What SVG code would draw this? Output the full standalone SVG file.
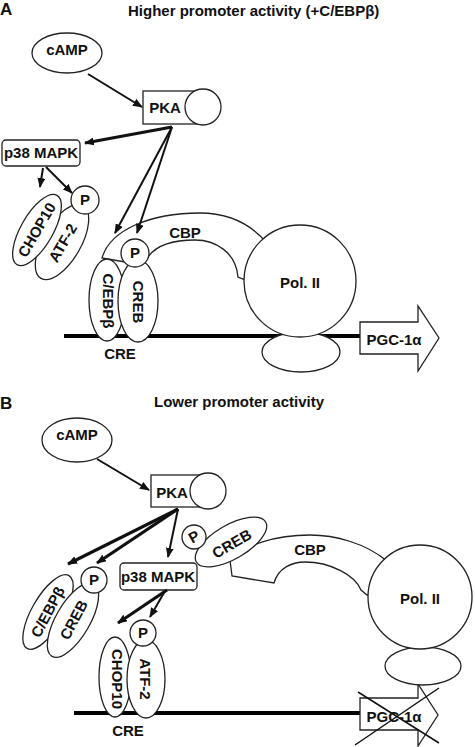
<svg xmlns="http://www.w3.org/2000/svg" width="475" height="747" viewBox="0 0 475 747">
<style>
text{font-family:"Liberation Sans",Arial,sans-serif;font-weight:bold;font-size:15px;fill:#111}
.c{text-anchor:middle}
.s{fill:#fff;stroke:#222;stroke-width:1.3}
.a{stroke:#111;stroke-width:2;fill:none;marker-end:url(#ah)}
.t{stroke:#111;stroke-width:3.2;fill:none;marker-end:url(#ah)}
.dna{stroke:#000;stroke-width:4}
.big{font-size:17px}
</style>
<defs>
<marker id="ah" markerUnits="userSpaceOnUse" markerWidth="10" markerHeight="8" refX="9" refY="4" orient="auto">
<path d="M0,0 L10,4 L0,8 Z" fill="#111"/>
</marker>
</defs>
<rect width="475" height="747" fill="#fff"/>

<!-- Panel A -->
<text x="0" y="15" class="big">A</text>
<text x="128" y="16">Higher promoter activity (+C/EBPβ)</text>

<g id="a-dna"><line class="dna" x1="64" y1="336" x2="360" y2="336"/></g>

<g id="a-camp"><ellipse class="s" cx="67" cy="53" rx="35" ry="20"/><text class="c" x="67" y="55">cAMP</text></g>
<g id="a-pka"><rect class="s" x="143" y="91" width="58" height="33"/><circle class="s" cx="203" cy="107" r="18"/><text class="c" x="165" y="113">PKA</text></g>
<g id="a-p38"><rect class="s" x="2" y="140" width="78" height="26" rx="4"/><text class="c" x="41" y="158">p38 MAPK</text></g>

<g id="a-atf2"><ellipse class="s" cx="62" cy="242" rx="42" ry="19" transform="rotate(-60 62 242)"/><text class="c" transform="translate(63,243) rotate(-60)" y="5">ATF-2</text></g>
<g id="a-chop10"><ellipse class="s" cx="37" cy="230" rx="40" ry="16" transform="rotate(-60 37 230)"/><text class="c" transform="translate(37,230) rotate(-60)" y="5">CHOP10</text></g>
<g id="a-p1"><circle class="s" cx="85" cy="200" r="14"/><text class="c" x="85" y="205">P</text></g>

<g id="a-cbp"><path class="s" d="M102,258 C110,230 150,213 200,213 C230,213 252,226 266,242 L262,282 L243,279 L238,277 C236,252 215,240 195,240 C170,240 155,247 148,257 L125,262 Z"/><text class="c" x="185" y="238">CBP</text></g>
<g id="a-cebpb"><ellipse class="s" cx="107" cy="300" rx="18" ry="41"/><text class="c" transform="translate(108,301) rotate(90)" y="5">C/EBPβ</text></g>
<g id="a-creb"><ellipse class="s" cx="138" cy="301" rx="20" ry="41"/><text class="c" transform="translate(138,302) rotate(90)" y="5">CREB</text></g>
<g id="a-p2"><circle class="s" cx="135" cy="253" r="14"/><text class="c" x="135" y="258">P</text></g>
<text class="c" x="120" y="359">CRE</text>

<g id="a-pol2base"><ellipse class="s" cx="301" cy="352" rx="39" ry="20"/></g>
<g id="a-pol2"><circle class="s" cx="300" cy="281" r="56"/><text class="c" x="300" y="288">Pol. II</text></g>
<g id="a-pgc"><path class="s" d="M360,322 H418 V306 L439,338 L418,371 V354 H360 Z"/><text class="c" x="394" y="345">PGC-1α</text></g>

<g id="a-connectors">
<line class="a" x1="88" y1="74" x2="142" y2="107"/>
<line class="t" x1="172" y1="127" x2="85" y2="143"/>
<line class="a" x1="172" y1="127" x2="115" y2="233"/>
<line class="a" x1="172" y1="127" x2="137" y2="233"/>
<line class="a" x1="43" y1="168" x2="40" y2="187"/>
<line class="a" x1="46" y1="167" x2="72" y2="193"/>
</g>

<!-- Panel B -->
<text x="0" y="409" class="big">B</text>
<text x="154" y="407">Lower promoter activity</text>

<g id="b-dna"><line class="dna" x1="74" y1="713" x2="360" y2="713"/></g>

<g id="b-camp"><ellipse class="s" cx="77" cy="440" rx="35" ry="22"/><text class="c" x="77" y="440">cAMP</text></g>
<g id="b-pka"><rect class="s" x="151" y="475" width="57" height="32"/><circle class="s" cx="208" cy="491" r="18"/><text class="c" x="172" y="498">PKA</text></g>
<g id="b-p38"><rect class="s" x="120" y="563" width="77" height="27" rx="4"/><text class="c" x="158" y="582">p38 MAPK</text></g>

<g id="b-cbp"><path class="s" d="M230,560 C245,545 275,535 310,535 C335,535 365,543 387,561 L380,595 L367,595 L361,590 C355,575 330,562 305,562 C292,562 278,568 274,583 L232,576 Z"/><text class="c" x="310" y="555">CBP</text></g>
<g id="b-creb2"><ellipse class="s" cx="231" cy="542" rx="40" ry="17" transform="rotate(-30 231 542)"/><text class="c" transform="translate(232,544) rotate(-30)" y="5">CREB</text></g>
<g id="b-p2"><circle class="s" cx="194" cy="537" r="12"/><text class="c" transform="translate(194,537) rotate(-30)" y="5">P</text></g>

<g id="b-cebpb"><ellipse class="s" cx="48" cy="612" rx="42" ry="16" transform="rotate(-60 48 612)"/><text class="c" transform="translate(48,612) rotate(-62)" y="5">C/EBPβ</text></g>
<g id="b-creb"><ellipse class="s" cx="73" cy="620" rx="42" ry="17" transform="rotate(-60 73 620)"/><text class="c" transform="translate(74,620) rotate(-62)" y="5">CREB</text></g>
<g id="b-p1"><circle class="s" cx="94" cy="580" r="13"/><text class="c" x="94" y="585">P</text></g>

<g id="b-chop10"><ellipse class="s" cx="115" cy="677" rx="16" ry="40"/><text class="c" transform="translate(117,679) rotate(90)" y="5">CHOP10</text></g>
<g id="b-atf2"><ellipse class="s" cx="146" cy="679" rx="19" ry="39"/><text class="c" transform="translate(145,679) rotate(90)" y="5">ATF-2</text></g>
<g id="b-p3"><circle class="s" cx="143" cy="633" r="13"/><text class="c" x="143" y="638">P</text></g>
<text class="c" x="128" y="736">CRE</text>

<g id="b-pgc"><path class="s" d="M360,698 H418 V684 L438,715 L418,746 V730 H360 Z"/><text class="c" x="394" y="722">PGC-1α</text>
<line x1="358" y1="692" x2="439" y2="743" stroke="#111" stroke-width="1.5"/>
<line x1="439" y1="688" x2="355" y2="745" stroke="#111" stroke-width="1.5"/></g>
<g id="b-pol2base"><ellipse class="s" cx="423" cy="666" rx="38" ry="19"/></g>
<g id="b-pol2"><circle class="s" cx="420" cy="597" r="52"/><text class="c" x="420" y="604">Pol. II</text></g>

<g id="b-connectors">
<line class="a" x1="97" y1="459" x2="149" y2="490"/>
<line class="t" x1="178" y1="509" x2="68" y2="564"/>
<line class="t" x1="178" y1="509" x2="97" y2="563"/>
<line class="a" x1="178" y1="509" x2="168" y2="557"/>
<line class="t" x1="167" y1="590" x2="118" y2="623"/>
<line class="a" x1="165" y1="591" x2="150" y2="617"/>
</g>
</svg>
